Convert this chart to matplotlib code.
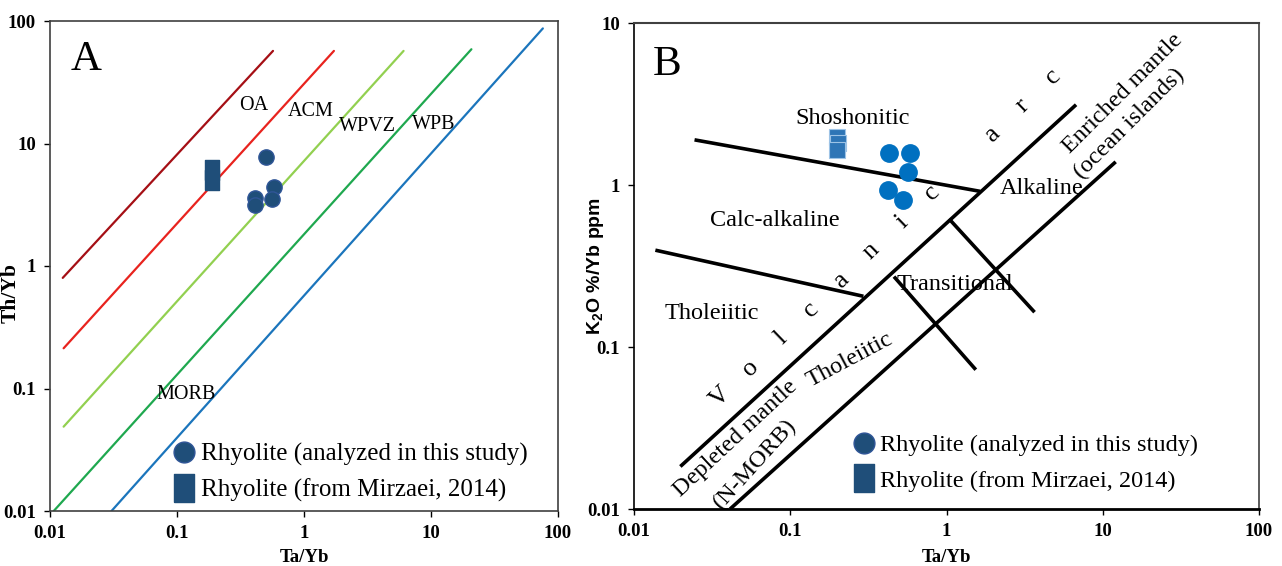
import matplotlib
matplotlib.use("Agg")
import matplotlib.pyplot as plt
from matplotlib.lines import Line2D
import numpy as np

plt.rcParams["font.family"] = ["Liberation Serif", "DejaVu Serif"]
plt.rcParams["mathtext.fontset"] = "custom"
plt.rcParams["mathtext.bf"] = "Liberation Sans:bold"
plt.rcParams["mathtext.rm"] = "Liberation Sans:bold"
plt.rcParams["mathtext.default"] = "bf"

# ---- panel A: Th/Yb vs Ta/Yb ----
a_circle_ta = [0.50, 0.58, 0.56, 0.41, 0.41]
a_circle_th = [7.8, 4.4, 3.5, 3.6, 3.15]
a_square_ta = [0.19, 0.187]
a_square_th = [6.1, 5.0]

# field boundaries (start / end points)
a_line_x0 = [0.0126, 0.0128, 0.0128, 0.0107, 0.0305]
a_line_y0 = [0.80, 0.213, 0.0488, 0.010, 0.010]
a_line_x1 = [0.57, 1.72, 6.08, 20.8, 76.0]
a_line_y1 = [57.0, 57.0, 57.0, 58.8, 87.0]
a_line_colors = ["#A50F15", "#E8231E", "#92D050", "#1FA84F", "#1B75BC"]

a_field_labels = ["OA", "ACM", "WPVZ", "WPB", "MORB"]
a_field_x = [0.40, 1.13, 3.19, 10.6, 0.117]
a_field_y = [20.6, 18.2, 13.7, 14.2, 0.0885]

# ---- panel B: K2O/Yb vs Ta/Yb ----
b_circle_ta = [0.43, 0.58, 0.57, 0.425, 0.525]
b_circle_k = [1.57, 1.57, 1.21, 0.93, 0.81]
b_square_ta = [0.200, 0.201, 0.200]
b_square_k = [1.98, 1.82, 1.64]

b_seg_x0 = [0.0244, 0.0137, 0.0198, 0.0412, 1.04, 0.461]
b_seg_y0 = [1.90, 0.396, 0.0183, 0.010, 0.617, 0.272]
b_seg_x1 = [1.64, 0.294, 6.75, 12.1, 3.66, 1.54]
b_seg_y1 = [0.914, 0.2056, 3.13, 1.39, 0.164, 0.0724]

b_field_labels = ["Shoshonitic", "Calc-alkaline", "Alkaline", "Transitional", "Tholeiitic"]
b_field_x = [0.250, 0.0793, 4.08, 1.13, 0.0313]
b_field_y = [2.58, 0.608, 0.955, 0.2416, 0.1614]

b_rot_labels = ["Enriched mantle", "(ocean islands)", "Depleted mantle", "Tholeiitic", "(N-MORB)"]
b_rot_x = [13.4, 14.7, 0.045, 0.24, 0.0598]
b_rot_y = [3.65, 2.40, 0.0274, 0.083, 0.019]
b_rot_angle = [45, 45, 43, 28, 48]

arc_word = "Volcanic arc"
arc_start = (0.0355, 0.0493)
arc_end = (4.81, 4.67)

x_ticks = [0.01, 0.1, 1, 10, 100]
x_ticklabels = ["0.01", "0.1", "1", "10", "100"]
a_y_ticks = [0.01, 0.1, 1, 10, 100]
a_y_ticklabels = ["0.01", "0.1", "1", "10", "100"]
b_y_ticks = [0.01, 0.1, 1, 10]
b_y_ticklabels = ["0.01", "0.1", "1", "10"]

legend_labels = ["Rhyolite (analyzed in this study)", "Rhyolite (from Mirzaei, 2014)"]

NAVY = "#1F4E79"
BRIGHT = "#0070C0"
rect = [(-0.36, -0.5), (0.36, -0.5), (0.36, 0.5), (-0.36, 0.5), (-0.36, -0.5)]


def style_axes(ax, yt, ytl):
    ax.set_xscale("log")
    ax.set_yscale("log")
    ax.set_xticks(x_ticks)
    ax.set_xticklabels(x_ticklabels)
    ax.set_yticks(yt)
    ax.set_yticklabels(ytl)
    ax.minorticks_off()
    ax.tick_params(direction="out", length=4, width=1, labelsize=13.5, pad=6)
    for lab in ax.get_xticklabels() + ax.get_yticklabels():
        lab.set_fontweight("bold")


fig = plt.figure(figsize=(12.82, 5.66), dpi=100)

# ---------------- panel A ----------------
axA = fig.add_axes([50 / 1282, 55 / 566, 508 / 1282, 490 / 566])
axA.set_xlim(0.01, 100)
axA.set_ylim(0.01, 100)
for x0, y0, x1, y1, c in zip(a_line_x0, a_line_y0, a_line_x1, a_line_y1, a_line_colors):
    axA.plot([x0, x1], [y0, y1], color=c, lw=1.6, solid_capstyle="round")
axA.plot(a_square_ta, a_square_th, ls="none", marker=rect, ms=15, color=NAVY, mec=NAVY)
axA.plot(a_circle_ta, a_circle_th, ls="none", marker="o", ms=11, color=NAVY, mec="#2F5597")
for lab, x, y in zip(a_field_labels, a_field_x, a_field_y):
    axA.text(x, y, lab, fontsize=14.5, ha="center", va="center")
axA.text(0.071, 0.92, "A", transform=axA.transAxes, fontsize=31, ha="center", va="center")
style_axes(axA, a_y_ticks, a_y_ticklabels)
for sp in axA.spines.values():
    sp.set_color("#404040")
    sp.set_linewidth(1.2)
axA.set_xlabel("Ta/Yb", fontsize=13.5, fontweight="bold")
axA.set_ylabel("Th/Yb", fontsize=15.5, fontweight="bold")
axA.xaxis.set_label_coords(0.5, -0.077)
axA.yaxis.set_label_coords(-0.058, 0.445)
hA = [Line2D([], [], ls="none", marker="o", ms=15, color=NAVY, mec="#2F5597"),
      Line2D([], [], ls="none", marker=rect, ms=20, color=NAVY)]
axA.legend(hA, legend_labels, loc="upper left", bbox_to_anchor=(0.245, 0.138),
           frameon=False, fontsize=18, handlelength=0.8, handletextpad=0.25,
           borderpad=0, borderaxespad=0, labelspacing=0.5)

# ---------------- panel B ----------------
axB = fig.add_axes([634 / 1282, 57 / 566, 625 / 1282, 486 / 566])
axB.set_xlim(0.01, 100)
axB.set_ylim(0.01, 10)
for x0, y0, x1, y1 in zip(b_seg_x0, b_seg_y0, b_seg_x1, b_seg_y1):
    axB.plot([x0, x1], [y0, y1], color="black", lw=2.6, solid_capstyle="butt")
axB.plot(b_square_ta, b_square_k, ls="none", marker="s", ms=11, color="#2E75B6",
         mec="#9DC3E6", mew=0.8)
axB.plot(b_circle_ta, b_circle_k, ls="none", marker="o", ms=12.5, color=BRIGHT, mec=BRIGHT)
for lab, x, y in zip(b_field_labels, b_field_x, b_field_y):
    axB.text(x, y, lab, fontsize=17.5, ha="center", va="center")
for lab, x, y, r in zip(b_rot_labels, b_rot_x, b_rot_y, b_rot_angle):
    axB.text(x, y, lab, fontsize=17.5, ha="center", va="center", rotation=r,
             rotation_mode="anchor")
# spaced-out letters of "Volcanic arc" along the arc boundary
lx0, ly0 = np.log10(arc_start)
lx1, ly1 = np.log10(arc_end)
n = len(arc_word) - 1
for i, ch in enumerate(arc_word):
    if ch == " ":
        continue
    t = i / n
    axB.text(10 ** (lx0 + t * (lx1 - lx0)), 10 ** (ly0 + t * (ly1 - ly0)), ch,
             fontsize=19, ha="center", va="center", rotation=44, rotation_mode="anchor")
axB.text(0.053, 0.914, "B", transform=axB.transAxes, fontsize=31, ha="center", va="center")
style_axes(axB, b_y_ticks, b_y_ticklabels)
axB.spines["left"].set_color("black")
axB.spines["left"].set_linewidth(1.2)
axB.spines["bottom"].set_color("black")
axB.spines["bottom"].set_linewidth(2.0)
axB.spines["top"].set_color("#404040")
axB.spines["top"].set_linewidth(1.5)
axB.spines["right"].set_color("#404040")
axB.spines["right"].set_linewidth(1.2)
axB.set_xlabel("Ta/Yb", fontsize=13.5, fontweight="bold")
axB.set_ylabel("K$_2$O %/Yb ppm", fontsize=14, fontweight="bold", family="Liberation Sans")
axB.xaxis.set_label_coords(0.5, -0.082)
axB.yaxis.set_label_coords(-0.045, 0.5)
hB = [Line2D([], [], ls="none", marker="o", ms=15, color=NAVY, mec="#2F5597"),
      Line2D([], [], ls="none", marker=rect, ms=20, color=NAVY)]
axB.legend(hB, legend_labels, loc="upper left", bbox_to_anchor=(0.352, 0.154),
           frameon=False, fontsize=17.5, handlelength=0.8, handletextpad=0.25,
           borderpad=0, borderaxespad=0, labelspacing=0.55)

fig.savefig("out.png", dpi=100)
